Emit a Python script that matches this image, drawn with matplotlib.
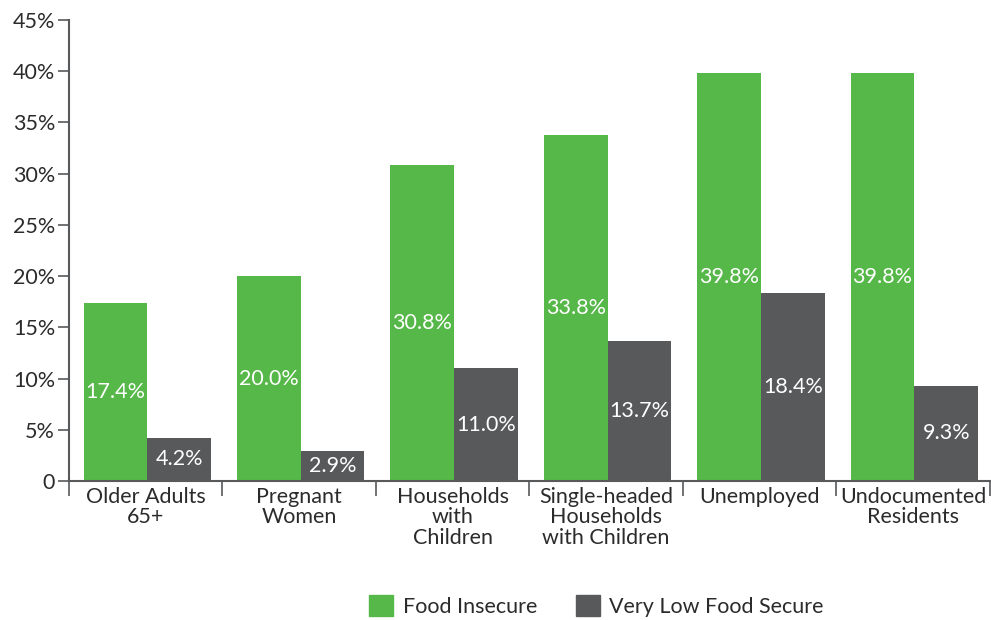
import numpy as np
import matplotlib.pyplot as plt
from matplotlib.patches import Patch
from matplotlib.ticker import FixedLocator

# data
categories = ['Older Adults\n65+', 'Pregnant\nWomen', 'Households\nwith\nChildren',
              'Single-headed\nHouseholds\nwith Children', 'Unemployed', 'Undocumented\nResidents']
food_insecure = [17.4, 20.0, 30.8, 33.8, 39.8, 39.8]
very_low = [4.2, 2.9, 11.0, 13.7, 18.4, 9.3]
series_names = ['Food Insecure', 'Very Low Food Secure']
y_ticks = [0, 5, 10, 15, 20, 25, 30, 35, 40, 45]
y_labels = ['0'] + [f'{v}%' for v in y_ticks[1:]]

GREEN = '#56b848'
GRAY = '#58595b'
AXIS = '#58595b'
TEXT = '#2b2b2b'
FS = 15.5

plt.rcParams['font.family'] = ['Lato', 'DejaVu Sans']

fig = plt.figure(figsize=(9.91, 6.2), dpi=100)
ax = fig.add_axes([0.0696, 0.2242, 0.929, 0.7435])

x = np.arange(len(categories))
w = 0.415
b1 = ax.bar(x - w / 2 + 0.01, food_insecure, w, color=GREEN, linewidth=0)
b2 = ax.bar(x + w / 2 + 0.01, very_low, w, color=GRAY, linewidth=0)

for bars, vals in ((b1, food_insecure), (b2, very_low)):
    for r, v in zip(bars, vals):
        ax.text(r.get_x() + r.get_width() / 2, v / 2, f'{v:.1f}%',
                ha='center', va='center', color='white', fontsize=FS)

ax.set_xlim(-0.5, len(categories) - 0.5)
ax.set_ylim(0, 45)
ax.set_yticks(y_ticks)
ax.set_yticklabels(y_labels, fontsize=FS, color=TEXT)
ax.tick_params(axis='y', length=8, width=1.2, color=AXIS, pad=2)

ax.set_xticks(x)
ax.set_xticklabels(categories, fontsize=FS, color=TEXT, linespacing=1.05, va='top')
ax.tick_params(axis='x', which='major', length=0, pad=4)
ax.xaxis.set_minor_locator(FixedLocator(np.arange(-0.5, len(categories), 1.0)))
ax.tick_params(axis='x', which='minor', length=11, width=1.2, color=AXIS)

for s in ('top', 'right'):
    ax.spines[s].set_visible(False)
for s in ('left', 'bottom'):
    ax.spines[s].set_color(AXIS)
    ax.spines[s].set_linewidth(1.5)

handles = [Patch(color=GREEN), Patch(color=GRAY)]
fig.legend(handles, series_names, loc='center', bbox_to_anchor=(0.602, 0.023),
           ncol=2, frameon=False, fontsize=FS, handlelength=1.1, handleheight=1.1,
           handletextpad=0.45, columnspacing=1.8, labelcolor=TEXT)

fig.savefig('out.png', dpi=100)
